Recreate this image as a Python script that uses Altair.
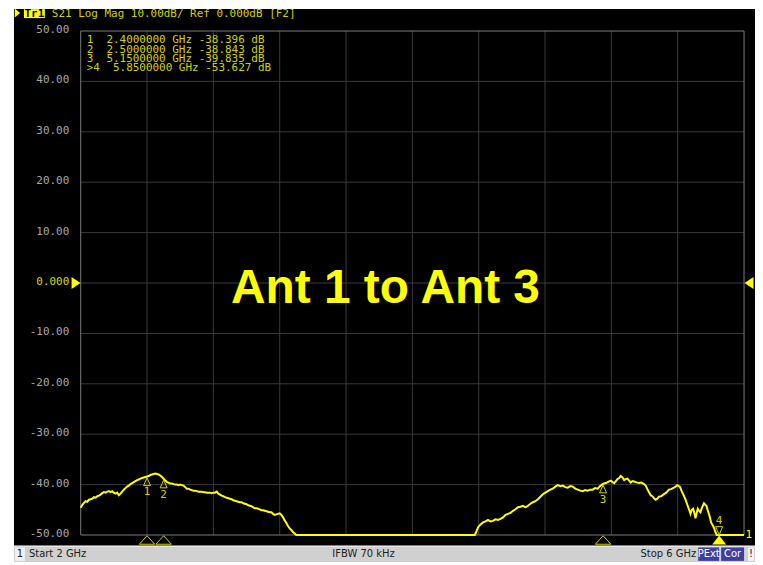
import altair as alt
import pandas as pd

# ---------------- data ----------------
freq_ghz = [
    2.000, 2.010, 2.020, 2.030, 2.040, 2.050, 2.060, 2.070, 2.080, 2.090,
    2.100, 2.110, 2.120, 2.130, 2.140, 2.150, 2.160, 2.170, 2.180, 2.190,
    2.200, 2.210, 2.220, 2.230, 2.240, 2.250, 2.260, 2.270, 2.280, 2.290,
    2.300, 2.310, 2.320, 2.330, 2.340, 2.350, 2.360, 2.370, 2.380, 2.390,
    2.400, 2.410, 2.420, 2.430, 2.440, 2.450, 2.460, 2.470, 2.480, 2.490,
    2.500, 2.510, 2.520, 2.530, 2.540, 2.550, 2.560, 2.570, 2.580, 2.590,
    2.600, 2.610, 2.620, 2.630, 2.640, 2.650, 2.660, 2.670, 2.680, 2.690,
    2.700, 2.710, 2.720, 2.730, 2.740, 2.750, 2.760, 2.770, 2.780, 2.790,
    2.800, 2.810, 2.820, 2.830, 2.840, 2.850, 2.860, 2.870, 2.880, 2.890,
    2.900, 2.910, 2.920, 2.930, 2.940, 2.950, 2.960, 2.970, 2.980, 2.990,
    3.000, 3.010, 3.020, 3.030, 3.040, 3.050, 3.060, 3.070, 3.080, 3.090,
    3.100, 3.110, 3.120, 3.130, 3.140, 3.150, 3.160, 3.170, 3.180, 3.190,
    3.200, 3.210, 3.220, 3.230, 3.240, 3.250, 3.260, 3.270, 3.280, 3.290,
    3.300, 4.377,
    4.396, 4.408, 4.426, 4.441, 4.456, 4.471, 4.486, 4.501, 4.516, 4.531,
    4.547, 4.562, 4.577, 4.592, 4.607, 4.622, 4.637, 4.652, 4.667, 4.682,
    4.697, 4.712, 4.727, 4.742, 4.757, 4.772, 4.787, 4.802, 4.817, 4.832,
    4.847, 4.862, 4.877, 4.892, 4.907, 4.922, 4.937, 4.952, 4.967, 4.982,
    4.997, 5.012, 5.027, 5.042, 5.057, 5.072, 5.087, 5.102, 5.117, 5.132,
    5.150, 5.167, 5.183, 5.197, 5.207, 5.217, 5.227, 5.237, 5.247, 5.256,
    5.267, 5.277, 5.286, 5.297, 5.307, 5.317, 5.327, 5.337, 5.347, 5.367,
    5.381, 5.397, 5.407, 5.417, 5.427, 5.437, 5.447, 5.457, 5.467, 5.477,
    5.487, 5.501, 5.517, 5.531, 5.547, 5.561, 5.577, 5.587, 5.597, 5.613,
    5.624, 5.637, 5.647, 5.657, 5.667, 5.677, 5.685, 5.693, 5.700, 5.707,
    5.714, 5.721, 5.729, 5.737, 5.747, 5.758, 5.766, 5.773, 5.780, 5.788,
    5.795, 5.801, 5.810, 5.818, 5.826, 5.835, 5.850, 5.870, 5.900, 5.950,
    6.000,
]
s21_db = [
    -44.6, -44.0, -43.6, -43.3, -43.4, -43.0, -42.9, -42.8, -42.5, -42.6,
    -42.3, -42.2, -42.0, -41.7, -41.5, -41.6, -41.4, -41.3, -41.5, -41.3,
    -41.6, -41.8, -41.6, -42.1, -41.8, -41.4, -41.0, -40.7, -40.4, -40.2,
    -39.9, -39.7, -39.5, -39.3, -39.1, -39.0, -38.8, -38.7, -38.6, -38.5,
    -38.396, -38.3, -38.1, -38.0, -37.9, -37.8, -37.9, -38.0, -38.2, -38.5,
    -38.843, -39.2, -39.5, -39.6, -39.8, -39.8, -39.9, -40.0, -40.0, -40.1,
    -40.0, -40.1, -40.2, -40.5, -40.8, -40.8, -41.0, -41.1, -41.2, -41.2,
    -41.3, -41.4, -41.4, -41.4, -41.5, -41.5, -41.6, -41.6, -41.6, -41.7,
    -41.6, -41.6, -41.4, -41.8, -42.0, -42.2, -42.3, -42.5, -42.6, -42.7,
    -42.8, -42.9, -43.1, -43.2, -43.3, -43.4, -43.5, -43.5, -43.7, -43.8,
    -43.9, -44.1, -44.2, -44.3, -44.5, -44.7, -44.7, -44.8, -44.9, -45.1,
    -45.1, -45.2, -45.3, -45.4, -45.5, -45.5, -45.8, -46.0, -45.9, -45.8,
    -45.7, -46.0, -46.5, -47.1, -47.6, -48.2, -48.7, -49.0, -49.4, -49.7,
    -50.0, -50.0,
    -48.5, -48.0, -47.5, -47.3, -47.0, -47.3, -47.2, -46.9, -47.0, -46.8,
    -46.5, -46.0, -45.8, -45.6, -45.2, -44.9, -44.5, -44.4, -44.2, -44.5,
    -44.2, -43.8, -43.5, -43.3, -42.9, -42.4, -41.9, -41.6, -41.3, -41.0,
    -40.8, -40.4, -40.1, -40.3, -40.2, -40.5, -40.6, -40.3, -40.4, -40.8,
    -41.0, -41.2, -41.3, -41.1, -41.2, -41.0, -41.0, -40.7, -40.8, -40.3,
    -39.835, -39.7, -39.4, -39.2, -39.5, -39.7, -39.3, -38.9, -38.7, -38.3,
    -38.6, -39.1, -38.9, -38.8, -39.2, -39.6, -39.3, -39.4, -39.5, -39.7,
    -39.6, -39.9, -40.2, -40.9, -41.5, -42.1, -42.3, -42.7, -43.0, -42.8,
    -42.4, -42.3, -41.9, -41.6, -41.0, -40.9, -40.6, -40.4, -40.1, -40.4,
    -41.3, -42.2, -43.0, -43.9, -44.8, -45.8, -45.0, -44.8, -45.6, -46.7,
    -45.7, -44.8, -45.2, -45.5, -44.5, -43.7, -44.0, -44.2, -45.0, -45.8,
    -46.6, -47.5, -48.0, -48.5, -49.3, -50.5, -53.627, -50.0, -50.0, -50.0,
    -50.0,
]

marker_ids = ["1", "2", "3", "4"]
marker_freq = [2.4, 2.5, 5.15, 5.85]
marker_db = [-38.396, -38.843, -39.835, -53.627]
marker_active = [False, False, False, True]

y_ticks = [50, 40, 30, 20, 10, 0, -10, -20, -30, -40, -50]
y_labels = ["50.00", "40.00", "30.00", "20.00", "10.00", "0.000",
            "-10.00", "-20.00", "-30.00", "-40.00", "-50.00"]
x_grid = [2.4, 2.8, 3.2, 3.6, 4.0, 4.4, 4.8, 5.2, 5.6]
y_grid = [40, 30, 20, 10, 0, -10, -20, -30, -40]

header_text = "S21 Log Mag 10.00dB/ Ref 0.000dB [F2]"
trace_tag = "Tr1"
title_text = "Ant 1 to Ant 3"
status_start = "Start 2 GHz"
status_ifbw = "IFBW 70 kHz"
status_stop = "Stop 6 GHz"

# ---------------- build ----------------
W, H = 666, 506
MONO = "DejaVu Sans Mono"
DULL = "#d2d200"
BRIGHT = "#ffff00"
NB = "\u00a0"

trace = pd.DataFrame({"f": freq_ghz, "db": s21_db})
markers = pd.DataFrame({"id": marker_ids, "f": marker_freq, "db": marker_db,
                        "active": marker_active})
rows = []
for mid, mf, md, act in zip(marker_ids, marker_freq, marker_db, marker_active):
    prefix = ">" if act else NB
    rows.append(f"{prefix}{mid}{NB}{NB}{mf:.7f}{NB}GHz{NB}{md:.3f}{NB}dB")
table = pd.DataFrame({"t": ["\n".join(rows)]})
ylab = pd.DataFrame({"db": y_ticks, "lab": y_labels,
                     "ref": [v == 0 for v in y_ticks]})

xs = alt.Scale(domain=[2, 6], nice=False, zero=False)
ys = alt.Scale(domain=[-50, 50], nice=False, zero=False, clamp=True)


def txt(s):
    return alt.Chart(pd.DataFrame({"t": [s]}))


one = pd.DataFrame({"a": [0]})

frame = alt.Chart(one).mark_rect(fill="#000000").encode(
    x=alt.value(-67), x2=alt.value(677), y=alt.value(-22), y2=alt.value(516.5))

xgrid = alt.Chart(pd.DataFrame({"f": x_grid})).mark_rule(
    color="#3a3a3a", strokeWidth=1).encode(x=alt.X("f:Q", scale=xs, axis=None))
ygrid = alt.Chart(pd.DataFrame({"db": y_grid})).mark_rule(
    color="#3a3a3a", strokeWidth=1).encode(y=alt.Y("db:Q", scale=ys, axis=None))

border = alt.Chart(one).mark_rect(fillOpacity=0, stroke="#7c7c7c", strokeWidth=1).encode(
    x=alt.value(0), x2=alt.value(W), y=alt.value(0), y2=alt.value(H))

ylabels = alt.Chart(ylab).mark_text(
    font=MONO, fontSize=11, align="right", baseline="middle", dy=-1).encode(
    x=alt.value(-11.5), y=alt.Y("db:Q", scale=ys, axis=None), text="lab:N",
    color=alt.condition("datum.ref", alt.value("#d8d800"), alt.value("#a8a8a8")))

line = alt.Chart(trace).mark_line(color=BRIGHT, strokeWidth=2).encode(
    x=alt.X("f:Q", scale=xs, axis=None),
    y=alt.Y("db:Q", scale=ys, axis=None),
)

table_text = alt.Chart(table).mark_text(
    font=MONO, fontSize=11, color=DULL, align="left", baseline="top",
    lineBreak="\n", lineHeight=9.2).encode(
    x=alt.value(6), y=alt.value(3.5), text="t:N")

title = txt(title_text).mark_text(
    font="Liberation Sans", fontWeight="bold", fontSize=48, color=BRIGHT,
    align="center", baseline="alphabetic").encode(
    x=alt.value(306), y=alt.value(273), text="t:N")

up_tri = "M0,0.4L1,2.6L-1,2.6Z"
down_tri = "M0,0L1,-2.4L-1,-2.4Z"
flat_tri = "M0,-0.55L1,0.55L-1,0.55Z"
flat_tri_big = "M0,-0.65L1,0.65L-1,0.65Z"

mk_base = alt.Chart(markers)
mk_up = mk_base.transform_filter("!datum.active").mark_point(
    shape=up_tri, size=49, filled=False, stroke=DULL, strokeWidth=1, opacity=1).encode(
    x=alt.X("f:Q", scale=xs, axis=None), y=alt.Y("db:Q", scale=ys, axis=None))
mk_up_lbl = mk_base.transform_filter("!datum.active").mark_text(
    font=MONO, fontSize=11, color=DULL, baseline="top", dy=10).encode(
    x=alt.X("f:Q", scale=xs, axis=None), y=alt.Y("db:Q", scale=ys, axis=None),
    text="id:N")
mk_dn = mk_base.transform_filter("datum.active").mark_point(
    shape=down_tri, size=49, filled=False, stroke=DULL, strokeWidth=1, opacity=1).encode(
    x=alt.X("f:Q", scale=xs, axis=None), y=alt.Y("db:Q", scale=ys, axis=None))
mk_dn_lbl = mk_base.transform_filter("datum.active").mark_text(
    font=MONO, fontSize=11, color=DULL, baseline="bottom", dy=-9).encode(
    x=alt.X("f:Q", scale=xs, axis=None), y=alt.Y("db:Q", scale=ys, axis=None),
    text="id:N")

bot_open = mk_base.transform_filter("!datum.active").mark_point(
    shape=flat_tri, size=240, filled=False, stroke=DULL, strokeWidth=1, opacity=1).encode(
    x=alt.X("f:Q", scale=xs, axis=None), y=alt.value(H + 5))
bot_fill = mk_base.transform_filter("datum.active").mark_point(
    shape=flat_tri_big, size=196, filled=True, fill=BRIGHT, opacity=1).encode(
    x=alt.X("f:Q", scale=xs, axis=None), y=alt.value(H + 5))

ref_left = alt.Chart(one).mark_point(
    shape="M-0.75,-1L0.75,0L-0.75,1Z", size=144, filled=True, fill=BRIGHT, opacity=1).encode(
    x=alt.value(-4.7), y=alt.Y(datum=0, scale=ys, axis=None))
ref_right = alt.Chart(one).mark_point(
    shape="M0.75,-1L-0.75,0L0.75,1Z", size=144, filled=True, fill=BRIGHT, opacity=1).encode(
    x=alt.value(671), y=alt.Y(datum=0, scale=ys, axis=None))
trace_no = txt("1").mark_text(
    font=MONO, fontSize=11, color=BRIGHT, align="left", baseline="middle").encode(
    x=alt.value(667.5), y=alt.Y(datum=-50, scale=ys, axis=None), text="t:N")

# header
hdr_ptr = alt.Chart(one).mark_point(
    shape="M-0.6,-1L0.6,0L-0.6,1Z", size=81, filled=True, fill=BRIGHT, opacity=1).encode(
    x=alt.value(-63.5), y=alt.value(-18))
tag_box = alt.Chart(one).mark_rect(fill=BRIGHT).encode(
    x=alt.value(-57), x2=alt.value(-36), y=alt.value(-22), y2=alt.value(-13))
tag_txt = txt(trace_tag).mark_text(
    font=MONO, fontSize=11, fontWeight="bold", color="#000000", align="center",
    baseline="middle").encode(x=alt.value(-46.5), y=alt.value(-17.5), text="t:N")
hdr_txt = txt(header_text).mark_text(
    font=MONO, fontSize=11, color=DULL, align="left", baseline="middle").encode(
    x=alt.value(-29), y=alt.value(-17.5), text="t:N")

# status bar
SB_Y0, SB_Y1, SB_YC = 517.5, 533, 525.5
sb = alt.Chart(one).mark_rect(fill="#d0d0d0").encode(
    x=alt.value(-67), x2=alt.value(677), y=alt.value(SB_Y0), y2=alt.value(SB_Y1))
sb_one = alt.Chart(one).mark_rect(fill="#f0f0f0").encode(
    x=alt.value(-66), x2=alt.value(-56), y=alt.value(SB_Y0 + 1), y2=alt.value(SB_Y1 - 1))
sb_pext = alt.Chart(one).mark_rect(fill="#3e3e9e").encode(
    x=alt.value(620), x2=alt.value(641), y=alt.value(SB_Y0 + 1), y2=alt.value(SB_Y1 - 1))
sb_cor = alt.Chart(one).mark_rect(fill="#3e3e9e").encode(
    x=alt.value(643), x2=alt.value(666), y=alt.value(SB_Y0 + 1), y2=alt.value(SB_Y1 - 1))
sb_ex = alt.Chart(one).mark_rect(fill="#f4f4f4").encode(
    x=alt.value(670), x2=alt.value(676), y=alt.value(SB_Y0 + 1), y2=alt.value(SB_Y1 - 1))


def sbtext(s, x, align="left", color="#202020"):
    return txt(s).mark_text(font="DejaVu Sans", fontSize=10, color=color, align=align,
                            baseline="middle").encode(
        x=alt.value(x), y=alt.value(SB_YC), text="t:N")


layers = [
    frame, xgrid, ygrid, border, ylabels, table_text, title, line,
    mk_up, mk_up_lbl, mk_dn, mk_dn_lbl, bot_open, bot_fill,
    ref_left, ref_right, trace_no, hdr_ptr, tag_box, tag_txt, hdr_txt,
    sb, sb_one, sb_pext, sb_cor, sb_ex,
    sbtext("1", -61, "center"), sbtext(status_start, -52),
    sbtext(status_ifbw, 284, "center"), sbtext(status_stop, 618, "right"),
    sbtext("PExt", 630.5, "center", "#ffffff"), sbtext("Cor", 654.5, "center", "#ffffff"),
    sbtext("!", 673, "center"),
]

chart = alt.layer(*layers).properties(
    width=W, height=H,
    autosize=alt.AutoSizeParams(type="none"),
    padding={"left": 73, "top": 22, "right": 11, "bottom": 27},
    background="#ffffff",
).configure_view(strokeWidth=0)

chart.save("out.html", embed_options={"renderer": "svg", "actions": False})
